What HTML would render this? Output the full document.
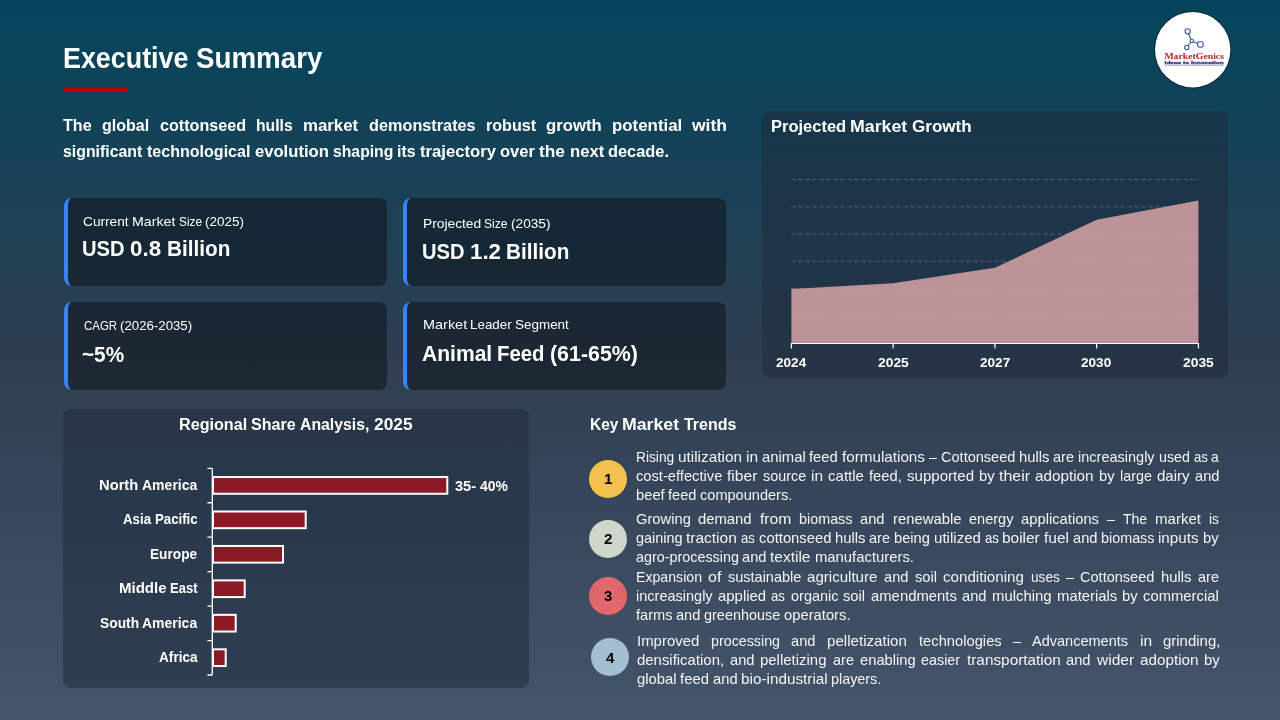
<!DOCTYPE html>
<html lang="en">
<head>
<meta charset="utf-8">
<title>Executive Summary – Cottonseed Hulls Market</title>
<style>
html,body{margin:0;padding:0}
body{width:1280px;height:720px;overflow:hidden;position:relative;font-family:"Liberation Sans",sans-serif;
 background:linear-gradient(180deg,#03455c 0%,#2f3e51 50%,#44546a 100%)}
.t{position:absolute;white-space:nowrap;transform-origin:0 0;margin:0}
.t span{display:inline-block;transform-origin:0 50%}
.j{text-align:justify;text-align-last:justify;white-space:normal}
.card{position:absolute;box-sizing:border-box;width:323px;height:88px;border-left:4px solid #3b82f6;border-radius:8px;background:rgba(11,15,22,.5)}
.panel{position:absolute;border-radius:8px;background:rgba(30,41,59,.5)}
.rule{position:absolute;left:64px;top:88px;width:64px;height:4px;background:#c00000}
.dot{position:absolute;width:38px;height:38px;border-radius:50%}
svg{position:absolute;left:0;top:0;overflow:visible}
</style>
</head>
<body>
<div class="rule"></div>

<div class="card" style="left:64px;top:198px"></div>
<div class="card" style="left:403px;top:198px"></div>
<div class="card" style="left:64px;top:302px"></div>
<div class="card" style="left:403px;top:302px"></div>

<div class="panel" style="left:762px;top:111px;width:466px;height:267px"></div>
<div class="panel" style="left:63px;top:409px;width:466px;height:279px"></div>

<div class="dot" style="left:589px;top:460.4px;background:#f2c14e"></div>
<div class="dot" style="left:589px;top:520.2px;background:#cfd6cb"></div>
<div class="dot" style="left:589px;top:577px;background:#e0686a"></div>
<div class="dot" style="left:591px;top:638px;background:#a4bfd2"></div>

<svg width="1280" height="720" viewBox="0 0 1280 720">
 <!-- area chart -->
 <g stroke="#8b9aa7" stroke-width=".9" stroke-dasharray="4 3" fill="none" opacity=".5">
  <path d="M791.5 179.5H1198.5M791.5 206.75H1198.5M791.5 234H1198.5M791.5 261.25H1198.5M791.5 288.5H1198.5M791.5 315.75H1198.5"/>
 </g>
 <path d="M791.4 343.5V289L893.15 283.2L994.9 267.8L1096.65 219.8L1198.4 200.6V343.5Z" fill="#c89b9e" fill-opacity=".93"/>
 <path d="M791 343.5H1199M791.4 343.5V348.6M893.15 343.5V348.6M994.9 343.5V348.6M1096.65 343.5V348.6M1198.4 343.5V348.6" stroke="#fff" stroke-width="1.2" fill="none"/>
 <!-- bar chart -->
 <g fill="#8b1a24" stroke="#fff" stroke-width="2">
  <rect x="213" y="477.05" width="234.3" height="16.7"/>
  <rect x="213" y="511.50" width="92.7" height="16.7"/>
  <rect x="213" y="545.95" width="70.0" height="16.7"/>
  <rect x="213" y="580.40" width="31.7" height="16.7"/>
  <rect x="213" y="614.85" width="22.7" height="16.7"/>
  <rect x="213" y="649.30" width="12.7" height="16.7"/>
 </g>
 <path d="M212.3 468.3V675M207.4 468.3H212.3M207.4 502.75H212.3M207.4 537.2H212.3M207.4 571.65H212.3M207.4 606.1H212.3M207.4 640.55H212.3M207.4 675H212.3" stroke="#fff" stroke-width="1.3" fill="none"/>
 <!-- logo -->
 <circle cx="1192.7" cy="49.7" r="38.7" fill="#062838"/>
 <circle cx="1192.7" cy="49.7" r="37.7" fill="#fff"/>
 <g stroke="#3a5aa3" stroke-width="1.1" fill="none">
  <path d="M1188.6 33.8L1191.1 39.5M1193.4 41.8L1197.6 43.4M1190.6 42.4L1188.4 45.5"/>
  <circle cx="1187.6" cy="31.3" r="2.6"/>
  <circle cx="1191.8" cy="41" r="1.7"/>
  <circle cx="1200.4" cy="44.4" r="2.9"/>
  <circle cx="1186.8" cy="47.4" r="2.2"/>
 </g>
 <g transform="translate(1164.4 58.5) scale(.1)"><text x="0" y="0" font-family='"Liberation Serif",serif' font-weight="700" font-size="72" fill="#b9232f" textLength="596" lengthAdjust="spacingAndGlyphs">MarketGenics</text></g>
 <g transform="translate(1164.6 64) scale(.1)"><text x="0" y="0" font-family='"Liberation Sans",sans-serif' font-weight="700" font-size="44" fill="#35358f" stroke="#4a3a8c" stroke-width="3.5" textLength="591" lengthAdjust="spacingAndGlyphs">Ideas to Innovation</text></g>
 <path d="M1164.6 65.2H1223.7" stroke="#6a5aa8" stroke-width=".6"/>
</svg>

<div class="t" id="title" style="left:62.97px;top:40.74px;word-spacing:-0.81px;font-size:28.8px;line-height:34.56px;font-weight:700;color:#ffffff"><span style="margin-right:-9.05px;transform:scaleX(0.9327)">Executive</span> <span style="margin-right:-4.91px;transform:scaleX(0.9626)">Summary</span></div>
<div class="t j" id="p1" style="left:63.30px;top:115.85px;width:664.20px;word-spacing:-3px;font-size:16.8px;line-height:20.16px;font-weight:700;color:#ffffff"><span style="margin-right:-1.20px;transform:scaleX(0.9597)">The</span> <span style="margin-right:-2.16px;transform:scaleX(0.9564)">global</span> <span style="margin-right:-3.42px;transform:scaleX(0.9618)">cottonseed</span> <span style="margin-right:-2.53px;transform:scaleX(0.9354)">hulls</span> <span style="margin-right:0.16px;transform:scaleX(1.0028)">market</span> <span style="margin-right:-3.39px;transform:scaleX(0.9692)">demonstrates</span> <span style="margin-right:-2.05px;transform:scaleX(0.9608)">robust</span> <span style="margin-right:-0.25px;transform:scaleX(0.9955)">growth</span> <span style="margin-right:0.31px;transform:scaleX(1.0045)">potential</span> <span style="margin-right:1.41px;transform:scaleX(1.0419)">with</span></div>
<div class="t" id="p2" style="left:63.30px;top:141.85px;word-spacing:-0.44px;font-size:16.8px;line-height:20.16px;font-weight:700;color:#ffffff"><span style="margin-right:-4.60px;transform:scaleX(0.9452)">significant</span> <span style="margin-right:-4.74px;transform:scaleX(0.9562)">technological</span> <span style="margin-right:-0.76px;transform:scaleX(0.9898)">evolution</span> <span style="margin-right:-3.98px;transform:scaleX(0.9381)">shaping</span> <span style="margin-right:-1.02px;transform:scaleX(0.9479)">its</span> <span style="margin-right:-0.45px;transform:scaleX(0.9941)">trajectory</span> <span style="margin-right:-0.66px;transform:scaleX(0.9813)">over</span> <span style="margin-right:0.80px;transform:scaleX(1.0319)">the</span> <span style="margin-right:-0.23px;transform:scaleX(0.9935)">next</span> <span style="margin-right:-1.56px;transform:scaleX(0.9750)">decade.</span></div>
<div class="t" id="c1l" style="left:82.98px;top:214.01px;word-spacing:-0.32px;font-size:13.2px;line-height:15.84px;font-weight:400;color:#ffffff"><span style="margin-right:1.69px;transform:scaleX(1.0383)">Current</span> <span style="margin-right:3.01px;transform:scaleX(1.0747)">Market</span> <span style="margin-right:-2.62px;transform:scaleX(0.8980)">Size</span> <span style="margin-right:0.79px;transform:scaleX(1.0207)">(2025)</span></div>
<div class="t" id="c1v" style="left:82.33px;top:235.56px;word-spacing:-0.51px;font-size:21.6px;line-height:25.92px;font-weight:700;color:#ffffff"><span style="margin-right:-3.01px;transform:scaleX(0.9339)">USD</span> <span style="margin-right:1.04px;transform:scaleX(1.0346)">0.8</span> <span style="margin-right:-2.52px;transform:scaleX(0.9618)">Billion</span></div>
<div class="t" id="c2l" style="left:83.82px;top:318.01px;word-spacing:-0.37px;font-size:13.2px;line-height:15.84px;font-weight:400;color:#ffffff"><span style="margin-right:-5.01px;transform:scaleX(0.8685)">CAGR</span> <span style="margin-right:0.28px;transform:scaleX(1.0039)">(2026-2035)</span></div>
<div class="t" id="c2v" style="left:82.28px;top:341.56px;font-size:21.6px;line-height:25.92px;font-weight:700;color:#ffffff;transform:scaleX(0.9615)">~5%</div>
<div class="t" id="c3l" style="left:422.56px;top:216.01px;word-spacing:-0.27px;font-size:13.2px;line-height:15.84px;font-weight:400;color:#ffffff"><span style="margin-right:2.45px;transform:scaleX(1.0440)">Projected</span> <span style="margin-right:-2.30px;transform:scaleX(0.9105)">Size</span> <span style="margin-right:1.33px;transform:scaleX(1.0349)">(2035)</span></div>
<div class="t" id="c3v" style="left:421.54px;top:239.16px;word-spacing:-0.52px;font-size:21.6px;line-height:25.92px;font-weight:700;color:#ffffff"><span style="margin-right:-3.12px;transform:scaleX(0.9316)">USD</span> <span style="margin-right:0.96px;transform:scaleX(1.0321)">1.2</span> <span style="margin-right:-2.67px;transform:scaleX(0.9595)">Billion</span></div>
<div class="t" id="c4l" style="left:422.50px;top:317.41px;word-spacing:-0.25px;font-size:13.2px;line-height:15.84px;font-weight:400;color:#ffffff"><span style="margin-right:3.84px;transform:scaleX(1.0953)">Market</span> <span style="margin-right:0.61px;transform:scaleX(1.0148)">Leader</span> <span style="margin-right:1.04px;transform:scaleX(1.0197)">Segment</span></div>
<div class="t" id="c4v" style="left:421.71px;top:341.26px;word-spacing:-0.59px;font-size:21.6px;line-height:25.92px;font-weight:700;color:#ffffff"><span style="margin-right:-1.78px;transform:scaleX(0.9753)">Animal</span> <span style="margin-right:-2.94px;transform:scaleX(0.9416)">Feed</span> <span style="margin-right:-0.83px;transform:scaleX(0.9907)">(61-65%)</span></div>
<div class="t" id="gt" style="left:770.77px;top:116.85px;word-spacing:-0.39px;font-size:16.8px;line-height:20.16px;font-weight:700;color:#ffffff"><span style="margin-right:-1.36px;transform:scaleX(0.9822)">Projected</span> <span style="margin-right:3.08px;transform:scaleX(1.0570)">Market</span> <span style="margin-right:0.90px;transform:scaleX(1.0153)">Growth</span></div>
<div class="t" id="rt" style="left:178.64px;top:414.80px;word-spacing:-0.37px;font-size:16.8px;line-height:20.16px;font-weight:700;color:#ffffff"><span style="margin-right:-2.69px;transform:scaleX(0.9620)">Regional</span> <span style="margin-right:-1.93px;transform:scaleX(0.9586)">Share</span> <span style="margin-right:-4.28px;transform:scaleX(0.9420)">Analysis,</span> <span style="margin-right:1.22px;transform:scaleX(1.0326)">2025</span></div>
<div class="t" id="kt" style="left:589.58px;top:415.10px;word-spacing:-0.39px;font-size:16.8px;line-height:20.16px;font-weight:700;color:#ffffff"><span style="margin-right:-2.48px;transform:scaleX(0.9193)">Key</span> <span style="margin-right:3.01px;transform:scaleX(1.0556)">Market</span> <span style="margin-right:-2.75px;transform:scaleX(0.9501)">Trends</span></div>
<div class="t" id="b1" style="left:99.48px;top:477.37px;word-spacing:-0.35px;font-size:14.4px;line-height:17.28px;font-weight:700;color:#ffffff"><span style="margin-right:0.90px;transform:scaleX(1.0234)">North</span> <span style="margin-right:-1.48px;transform:scaleX(0.9740)">America</span></div>
<div class="t" id="b2" style="left:123.27px;top:510.77px;word-spacing:-0.35px;font-size:14.4px;line-height:17.28px;font-weight:700;color:#ffffff"><span style="margin-right:-2.31px;transform:scaleX(0.9240)">Asia</span> <span style="margin-right:-3.82px;transform:scaleX(0.9176)">Pacific</span></div>
<div class="t" id="b3" style="left:149.55px;top:546.27px;font-size:14.4px;line-height:17.28px;font-weight:700;color:#ffffff;transform:scaleX(0.9505)">Europe</div>
<div class="t" id="b4" style="left:118.96px;top:579.67px;word-spacing:-0.34px;font-size:14.4px;line-height:17.28px;font-weight:700;color:#ffffff"><span style="margin-right:1.96px;transform:scaleX(1.0430)">Middle</span> <span style="margin-right:-2.89px;transform:scaleX(0.9050)">East</span></div>
<div class="t" id="b5" style="left:99.52px;top:615.17px;word-spacing:-0.36px;font-size:14.4px;line-height:17.28px;font-weight:700;color:#ffffff"><span style="margin-right:-1.67px;transform:scaleX(0.9589)">South</span> <span style="margin-right:-1.62px;transform:scaleX(0.9714)">America</span></div>
<div class="t" id="b6" style="left:159.26px;top:648.57px;font-size:14.4px;line-height:17.28px;font-weight:700;color:#ffffff;transform:scaleX(0.9467)">Africa</div>
<div class="t" id="bv" style="left:455.45px;top:478.37px;word-spacing:-0.39px;font-size:14.4px;line-height:17.28px;font-weight:700;color:#ffffff"><span style="margin-right:0.25px;transform:scaleX(1.0121)">35-</span> <span style="margin-right:-1.00px;transform:scaleX(0.9652)">40%</span></div>
<div class="t" id="y1" style="left:776.08px;top:354.71px;font-size:13.2px;line-height:15.84px;font-weight:700;color:#ffffff;transform:scaleX(1.0302)">2024</div>
<div class="t" id="y2" style="left:877.88px;top:354.71px;font-size:13.2px;line-height:15.84px;font-weight:700;color:#ffffff;transform:scaleX(1.0483)">2025</div>
<div class="t" id="y3" style="left:979.58px;top:354.71px;font-size:13.2px;line-height:15.84px;font-weight:700;color:#ffffff;transform:scaleX(1.0302)">2027</div>
<div class="t" id="y4" style="left:1081.38px;top:354.71px;font-size:13.2px;line-height:15.84px;font-weight:700;color:#ffffff;transform:scaleX(1.0302)">2030</div>
<div class="t" id="y5" style="left:1183.08px;top:354.71px;font-size:13.2px;line-height:15.84px;font-weight:700;color:#ffffff;transform:scaleX(1.0483)">2035</div>
<div class="t j" id="t1a" style="left:635.75px;top:449.37px;width:583.25px;word-spacing:-3px;font-size:14.4px;line-height:17.28px;font-weight:400;color:#f5f5f5"><span style="margin-right:-1.77px;transform:scaleX(0.9559)">Rising</span> <span style="margin-right:4.00px;transform:scaleX(1.0667)">utilization</span> <span style="margin-right:0.88px;transform:scaleX(1.0781)">in</span> <span style="margin-right:1.45px;transform:scaleX(1.0343)">animal</span> <span style="margin-right:0.80px;transform:scaleX(1.0284)">feed</span> <span style="margin-right:4.56px;transform:scaleX(1.0582)">formulations</span> <span style="margin-right:-0.05px;transform:scaleX(0.9942)">–</span> <span style="margin-right:0.78px;transform:scaleX(1.0106)">Cottonseed</span> <span style="margin-right:0.81px;transform:scaleX(1.0274)">hulls</span> <span style="margin-right:0.19px;transform:scaleX(1.0090)">are</span> <span style="margin-right:0.62px;transform:scaleX(1.0082)">increasingly</span> <span style="margin-right:-0.19px;transform:scaleX(0.9940)">used</span> <span style="margin-right:-1.28px;transform:scaleX(0.9157)">as</span> <span style="margin-right:-0.34px;transform:scaleX(0.9571)">a</span></div>
<div class="t j" id="t1b" style="left:635.75px;top:467.57px;width:583.25px;word-spacing:-3px;font-size:14.4px;line-height:17.28px;font-weight:400;color:#f5f5f5"><span style="margin-right:1.81px;transform:scaleX(1.0214)">cost-effective</span> <span style="margin-right:2.42px;transform:scaleX(1.0865)">fiber</span> <span style="margin-right:-0.03px;transform:scaleX(0.9993)">source</span> <span style="margin-right:0.88px;transform:scaleX(1.0781)">in</span> <span style="margin-right:1.53px;transform:scaleX(1.0445)">cattle</span> <span style="margin-right:0.80px;transform:scaleX(1.0249)">feed,</span> <span style="margin-right:3.03px;transform:scaleX(1.0474)">supported</span> <span style="margin-right:0.38px;transform:scaleX(1.0247)">by</span> <span style="margin-right:2.98px;transform:scaleX(1.1066)">their</span> <span style="margin-right:3.39px;transform:scaleX(1.0614)">adoption</span> <span style="margin-right:0.38px;transform:scaleX(1.0247)">by</span> <span style="margin-right:0.06px;transform:scaleX(1.0020)">large</span> <span style="margin-right:1.44px;transform:scaleX(1.0461)">dairy</span> <span style="margin-right:0.47px;transform:scaleX(1.0195)">and</span></div>
<div class="t" id="t1c" style="left:635.75px;top:486.57px;word-spacing:-0.42px;font-size:14.4px;line-height:17.28px;font-weight:400;color:#f5f5f5"><span style="margin-right:0.69px;transform:scaleX(1.0247)">beef</span> <span style="margin-right:0.43px;transform:scaleX(1.0153)">feed</span> <span style="margin-right:1.09px;transform:scaleX(1.0119)">compounders.</span></div>
<div class="t j" id="t2a" style="left:635.75px;top:510.57px;width:582.78px;word-spacing:-3px;font-size:14.4px;line-height:17.28px;font-weight:400;color:#f5f5f5"><span style="margin-right:1.25px;transform:scaleX(1.0233)">Growing</span> <span style="margin-right:1.61px;transform:scaleX(1.0309)">demand</span> <span style="margin-right:2.62px;transform:scaleX(1.0912)">from</span> <span style="margin-right:-0.11px;transform:scaleX(0.9980)">biomass</span> <span style="margin-right:0.47px;transform:scaleX(1.0195)">and</span> <span style="margin-right:2.17px;transform:scaleX(1.0327)">renewable</span> <span style="margin-right:0.45px;transform:scaleX(1.0103)">energy</span> <span style="margin-right:1.97px;transform:scaleX(1.0259)">applications</span> <span style="margin-right:-0.05px;transform:scaleX(0.9942)">–</span> <span style="margin-right:-0.64px;transform:scaleX(0.9742)">The</span> <span style="margin-right:2.03px;transform:scaleX(1.0462)">market</span> <span style="margin-right:-0.47px;transform:scaleX(0.9550)">is</span></div>
<div class="t j" id="t2b" style="left:635.75px;top:529.67px;width:582.47px;word-spacing:-3px;font-size:14.4px;line-height:17.28px;font-weight:400;color:#f5f5f5"><span style="margin-right:0.17px;transform:scaleX(1.0037)">gaining</span> <span style="margin-right:3.59px;transform:scaleX(1.0761)">traction</span> <span style="margin-right:-1.28px;transform:scaleX(0.9157)">as</span> <span style="margin-right:2.08px;transform:scaleX(1.0295)">cottonseed</span> <span style="margin-right:0.81px;transform:scaleX(1.0274)">hulls</span> <span style="margin-right:0.19px;transform:scaleX(1.0090)">are</span> <span style="margin-right:0.77px;transform:scaleX(1.0217)">being</span> <span style="margin-right:2.20px;transform:scaleX(1.0492)">utilized</span> <span style="margin-right:-1.28px;transform:scaleX(0.9157)">as</span> <span style="margin-right:2.53px;transform:scaleX(1.0719)">boiler</span> <span style="margin-right:1.72px;transform:scaleX(1.0741)">fuel</span> <span style="margin-right:0.47px;transform:scaleX(1.0195)">and</span> <span style="margin-right:-0.11px;transform:scaleX(0.9980)">biomass</span> <span style="margin-right:2.11px;transform:scaleX(1.0549)">inputs</span> <span style="margin-right:0.38px;transform:scaleX(1.0247)">by</span></div>
<div class="t" id="t2c" style="left:635.75px;top:548.67px;word-spacing:-0.37px;font-size:14.4px;line-height:17.28px;font-weight:400;color:#f5f5f5"><span style="margin-right:-0.29px;transform:scaleX(0.9972)">agro-processing</span> <span style="margin-right:0.47px;transform:scaleX(1.0197)">and</span> <span style="margin-right:2.85px;transform:scaleX(1.0758)">textile</span> <span style="margin-right:2.99px;transform:scaleX(1.0311)">manufacturers.</span></div>
<div class="t j" id="t3a" style="left:635.75px;top:569.37px;width:582.72px;word-spacing:-3px;font-size:14.4px;line-height:17.28px;font-weight:400;color:#f5f5f5"><span style="margin-right:-1.22px;transform:scaleX(0.9819)">Expansion</span> <span style="margin-right:1.31px;transform:scaleX(1.1092)">of</span> <span style="margin-right:0.55px;transform:scaleX(1.0075)">sustainable</span> <span style="margin-right:3.19px;transform:scaleX(1.0474)">agriculture</span> <span style="margin-right:0.47px;transform:scaleX(1.0195)">and</span> <span style="margin-right:0.45px;transform:scaleX(1.0210)">soil</span> <span style="margin-right:4.11px;transform:scaleX(1.0535)">conditioning</span> <span style="margin-right:-1.52px;transform:scaleX(0.9502)">uses</span> <span style="margin-right:-0.05px;transform:scaleX(0.9942)">–</span> <span style="margin-right:0.78px;transform:scaleX(1.0106)">Cottonseed</span> <span style="margin-right:0.81px;transform:scaleX(1.0274)">hulls</span> <span style="margin-right:0.19px;transform:scaleX(1.0090)">are</span></div>
<div class="t j" id="t3b" style="left:635.75px;top:588.47px;width:583.30px;word-spacing:-3px;font-size:14.4px;line-height:17.28px;font-weight:400;color:#f5f5f5"><span style="margin-right:0.62px;transform:scaleX(1.0082)">increasingly</span> <span style="margin-right:1.77px;transform:scaleX(1.0380)">applied</span> <span style="margin-right:-1.28px;transform:scaleX(0.9157)">as</span> <span style="margin-right:0.34px;transform:scaleX(1.0073)">organic</span> <span style="margin-right:0.45px;transform:scaleX(1.0210)">soil</span> <span style="margin-right:2.64px;transform:scaleX(1.0317)">amendments</span> <span style="margin-right:0.47px;transform:scaleX(1.0195)">and</span> <span style="margin-right:2.05px;transform:scaleX(1.0355)">mulching</span> <span style="margin-right:1.91px;transform:scaleX(1.0326)">materials</span> <span style="margin-right:0.38px;transform:scaleX(1.0247)">by</span> <span style="margin-right:2.16px;transform:scaleX(1.0293)">commercial</span></div>
<div class="t" id="t3c" style="left:635.75px;top:606.57px;word-spacing:-0.39px;font-size:14.4px;line-height:17.28px;font-weight:400;color:#f5f5f5"><span style="margin-right:0.70px;transform:scaleX(1.0195)">farms</span> <span style="margin-right:0.35px;transform:scaleX(1.0148)">and</span> <span style="margin-right:0.33px;transform:scaleX(1.0043)">greenhouse</span> <span style="margin-right:1.70px;transform:scaleX(1.0263)">operators.</span></div>
<div class="t j" id="t4a" style="left:637.00px;top:633.17px;width:583.60px;word-spacing:-3px;font-size:14.4px;line-height:17.28px;font-weight:400;color:#f5f5f5"><span style="margin-right:2.34px;transform:scaleX(1.0391)">Improved</span> <span style="margin-right:-0.58px;transform:scaleX(0.9917)">processing</span> <span style="margin-right:0.47px;transform:scaleX(1.0195)">and</span> <span style="margin-right:3.81px;transform:scaleX(1.0502)">pelletization</span> <span style="margin-right:1.89px;transform:scaleX(1.0234)">technologies</span> <span style="margin-right:-0.05px;transform:scaleX(0.9942)">–</span> <span style="margin-right:0.88px;transform:scaleX(1.0092)">Advancements</span> <span style="margin-right:0.88px;transform:scaleX(1.0781)">in</span> <span style="margin-right:2.17px;transform:scaleX(1.0393)">grinding,</span></div>
<div class="t j" id="t4b" style="left:637.00px;top:652.27px;width:582.75px;word-spacing:-3px;font-size:14.4px;line-height:17.28px;font-weight:400;color:#f5f5f5"><span style="margin-right:3.08px;transform:scaleX(1.0366)">densification,</span> <span style="margin-right:0.47px;transform:scaleX(1.0195)">and</span> <span style="margin-right:2.44px;transform:scaleX(1.0381)">pelletizing</span> <span style="margin-right:0.19px;transform:scaleX(1.0090)">are</span> <span style="margin-right:1.30px;transform:scaleX(1.0238)">enabling</span> <span style="margin-right:-0.11px;transform:scaleX(0.9972)">easier</span> <span style="margin-right:5.80px;transform:scaleX(1.0659)">transportation</span> <span style="margin-right:0.47px;transform:scaleX(1.0195)">and</span> <span style="margin-right:2.67px;transform:scaleX(1.0777)">wider</span> <span style="margin-right:3.39px;transform:scaleX(1.0614)">adoption</span> <span style="margin-right:0.38px;transform:scaleX(1.0247)">by</span></div>
<div class="t" id="t4c" style="left:637.00px;top:671.27px;word-spacing:-0.36px;font-size:14.4px;line-height:17.28px;font-weight:400;color:#f5f5f5"><span style="margin-right:1.13px;transform:scaleX(1.0294)">global</span> <span style="margin-right:0.92px;transform:scaleX(1.0327)">feed</span> <span style="margin-right:0.57px;transform:scaleX(1.0237)">and</span> <span style="margin-right:5.09px;transform:scaleX(1.0624)">bio-industrial</span> <span style="margin-right:-0.12px;transform:scaleX(0.9976)">players.</span></div>
<div class="t" id="n1" style="left:603.81px;top:471.07px;font-size:14.4px;line-height:17.28px;font-weight:700;color:#000000;transform:scaleX(1.0584)">1</div>
<div class="t" id="n2" style="left:603.67px;top:530.77px;font-size:14.4px;line-height:17.28px;font-weight:700;color:#000000;transform:scaleX(1.0605)">2</div>
<div class="t" id="n3" style="left:604.04px;top:587.67px;font-size:14.4px;line-height:17.28px;font-weight:700;color:#000000;transform:scaleX(1.0326)">3</div>
<div class="t" id="n4" style="left:605.74px;top:649.57px;font-size:14.4px;line-height:17.28px;font-weight:700;color:#000000;transform:scaleX(1.0370)">4</div>
</body>
</html>
